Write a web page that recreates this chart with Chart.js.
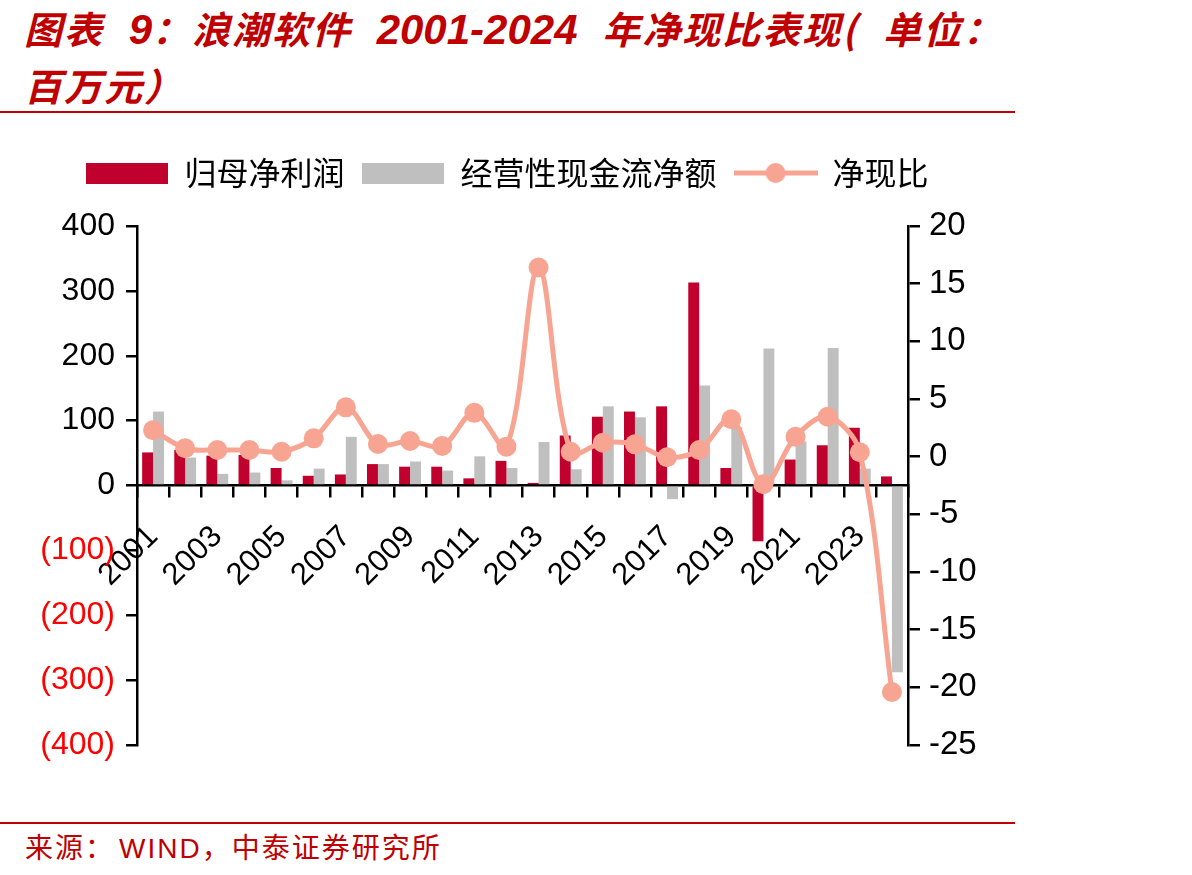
<!DOCTYPE html>
<html>
<head>
<meta charset="utf-8">
<script src="https://cdn.jsdelivr.net/npm/chart.js@4"></script>
<style>
    html, body { margin: 0; padding: 0; background: #fff; }
    body { width: 1192px; height: 875px; position: relative; overflow: hidden; }
    .title {
        position: absolute; left: 24px; top: 0; width: 1100px;
        font-family: "Noto Sans CJK SC", "Liberation Sans", sans-serif;
        font-weight: bold; font-style: italic; font-size: 38px; line-height: 55px;
        letter-spacing: 2px; word-spacing: 14px;
        color: #C00000;
    }
    .title .num { font-family: "Liberation Sans", Arial, sans-serif; font-size: 42px; letter-spacing: 0; }
    .rule { position: absolute; left: 0; width: 1015px; height: 2px; background: #C00000; }
    .source {
        position: absolute; left: 25px; top: 826px; letter-spacing: 2px;
        font-family: "Noto Sans CJK SC", sans-serif; font-size: 28px; color: #C00000;
    }
    .source .latin { font-family: "Liberation Sans", Arial, sans-serif; margin-left: 4px; }
    #wrap { position: absolute; left: 0; top: 120px; width: 1015px; height: 665px; }
</style>
</head>
<body>
<div class="title">图表 <span class="num">9</span>：浪潮软件 <span class="num">2001-2024</span> 年净现比表现( 单位：<br>百万元）</div>
<div class="rule" style="top:111px"></div>
<div id="wrap"><canvas id="ratio-chart"></canvas></div>
<div class="rule" style="top:822px"></div>
<div class="source">来源：<span class="latin">WIND</span>，中泰证券研究所</div>

<script>
var years = ['2001', '2002', '2003', '2004', '2005', '2006', '2007', '2008', '2009', '2010', '2011', '2012',
    '2013', '2014', '2015', '2016', '2017', '2018', '2019', '2020', '2021', '2022', '2023', '2024'];
// 归母净利润, 百万元
var netProfit = [51, 55, 46, 47, 27, 15, 17, 33, 29, 29, 11, 38, 4, 77, 106, 114, 122, 313, 27, -86, 40, 62, 89, 14];
// 经营性现金流净额, 百万元
var operatingCash = [114, 43, 18, 20, 8, 26, 75, 33, 37, 23, 45, 27, 67, 25, 122, 105, -21, 154, 90, 211, 68, 212, 26, -288];
// 净现比
var cashRatio = [2.3, 0.73, 0.58, 0.58, 0.43, 1.59, 4.28, 1.1, 1.36, 0.93, 3.8, 0.87, 16.4, 0.43, 1.21, 1.07, -0.05, 0.58, 3.24, -2.39, 1.73, 3.46, 0.38, -20.4];

var leftTicks = { min: -400, max: 400, step: 100 };
var rightTicks = { min: -25, max: 20, step: 5 };

var RED = '#C0002D';
var GREY = '#BFBFBF';
var SALMON = '#F7A592';
var NUM_FONT = '"Liberation Sans", Arial, sans-serif';

function makeBoxIcon(color) {
    var c = document.createElement('canvas');
    c.width = 82;
    c.height = 21;
    var ctx = c.getContext('2d');
    ctx.fillStyle = color;
    ctx.fillRect(0, 0, 82, 21);
    return c;
}

function makeLineIcon(color) {
    var c = document.createElement('canvas');
    c.width = 84;
    c.height = 22;
    var ctx = c.getContext('2d');
    ctx.strokeStyle = color;
    ctx.lineWidth = 5;
    ctx.beginPath();
    ctx.moveTo(0, 11);
    ctx.lineTo(84, 11);
    ctx.stroke();
    ctx.fillStyle = color;
    ctx.beginPath();
    ctx.arc(42, 11, 10, 0, Math.PI * 2);
    ctx.fill();
    return c;
}

var legendIcons = [makeBoxIcon(RED), makeBoxIcon(GREY), makeLineIcon(SALMON)];

// extra room between the legend and the plot
var legendGap = {
    id: 'legendGap',
    beforeLayout: function (chart) {
        var legend = chart.legend;
        if (!legend || legend._gapPatched) {
            return;
        }
        var fit = legend.fit;
        legend.fit = function () {
            fit.call(this);
            this.height += 27;
        };
        legend._gapPatched = true;
    }
};

function axisGrid(len) {
    return { display: true, drawOnChartArea: false, drawTicks: true, tickLength: len, color: '#000', lineWidth: 2.5 };
}

function drawRatioChart() {
    var ctx = document.getElementById('ratio-chart');

    new Chart(ctx, {
        type: 'bar',
        data: {
            labels: years,
            datasets: [
                { label: '归母净利润', data: netProfit, backgroundColor: RED, yAxisID: 'y', order: 1,
                  categoryPercentage: 0.68, barPercentage: 1.0 },
                { label: '经营性现金流净额', data: operatingCash, backgroundColor: GREY, yAxisID: 'y', order: 1,
                  categoryPercentage: 0.68, barPercentage: 1.0 },
                { type: 'line', label: '净现比', data: cashRatio, yAxisID: 'y2', order: 0,
                  borderColor: SALMON, backgroundColor: SALMON, borderWidth: 5, tension: 0.35,
                  pointRadius: 10, pointBorderWidth: 0, pointBackgroundColor: SALMON }
            ]
        },
        plugins: [legendGap],
        options: {
            responsive: true,
            maintainAspectRatio: false,
            animation: false,
            layout: { padding: { top: 19, bottom: 40, left: 0, right: 0 } },
            plugins: {
                tooltip: { enabled: false },
                legend: {
                    position: 'top',
                    labels: {
                        usePointStyle: true,
                        pointStyleWidth: 82,
                        padding: 18,
                        color: '#000',
                        font: { family: '"Noto Sans CJK SC", sans-serif', size: 32 },
                        generateLabels: function (chart) {
                            var items = Chart.defaults.plugins.legend.labels.generateLabels(chart);
                            items.sort(function (a, b) { return a.datasetIndex - b.datasetIndex; });
                            items.forEach(function (it) { it.pointStyle = legendIcons[it.datasetIndex]; });
                            return items;
                        }
                    }
                }
            },
            scales: {
                x: {
                    position: { y: 0 },
                    grid: axisGrid(11),
                    border: { display: true, color: '#000', width: 2.5 },
                    ticks: {
                        autoSkip: false,
                        minRotation: 45,
                        maxRotation: 45,
                        padding: 22,
                        color: '#000',
                        font: { family: NUM_FONT, size: 31 },
                        callback: function (val, i) { return i % 2 === 0 ? years[i] : ''; }
                    },
                    afterFit: function (scale) { scale.height = 0; }
                },
                y: {
                    position: 'left',
                    min: leftTicks.min,
                    max: leftTicks.max,
                    grid: axisGrid(11),
                    border: { display: true, color: '#000', width: 2.5 },
                    ticks: {
                        stepSize: leftTicks.step,
                        padding: 11,
                        font: { family: NUM_FONT, size: 32 },
                        color: function (c) { return c.tick && c.tick.value < 0 ? '#FF0000' : '#000'; },
                        callback: function (v) { return v < 0 ? '(' + Math.abs(v) + ')' : String(v); }
                    },
                    afterFit: function (scale) { scale.width = 137; }
                },
                y2: {
                    position: 'right',
                    min: rightTicks.min,
                    max: rightTicks.max,
                    grid: axisGrid(12),
                    border: { display: true, color: '#000', width: 2.5 },
                    ticks: {
                        stepSize: rightTicks.step,
                        padding: 9,
                        color: '#000',
                        font: { family: NUM_FONT, size: 33 }
                    },
                    afterFit: function (scale) { scale.width = 107; }
                }
            }
        }
    });
}

drawRatioChart();
</script>
</body>
</html>
